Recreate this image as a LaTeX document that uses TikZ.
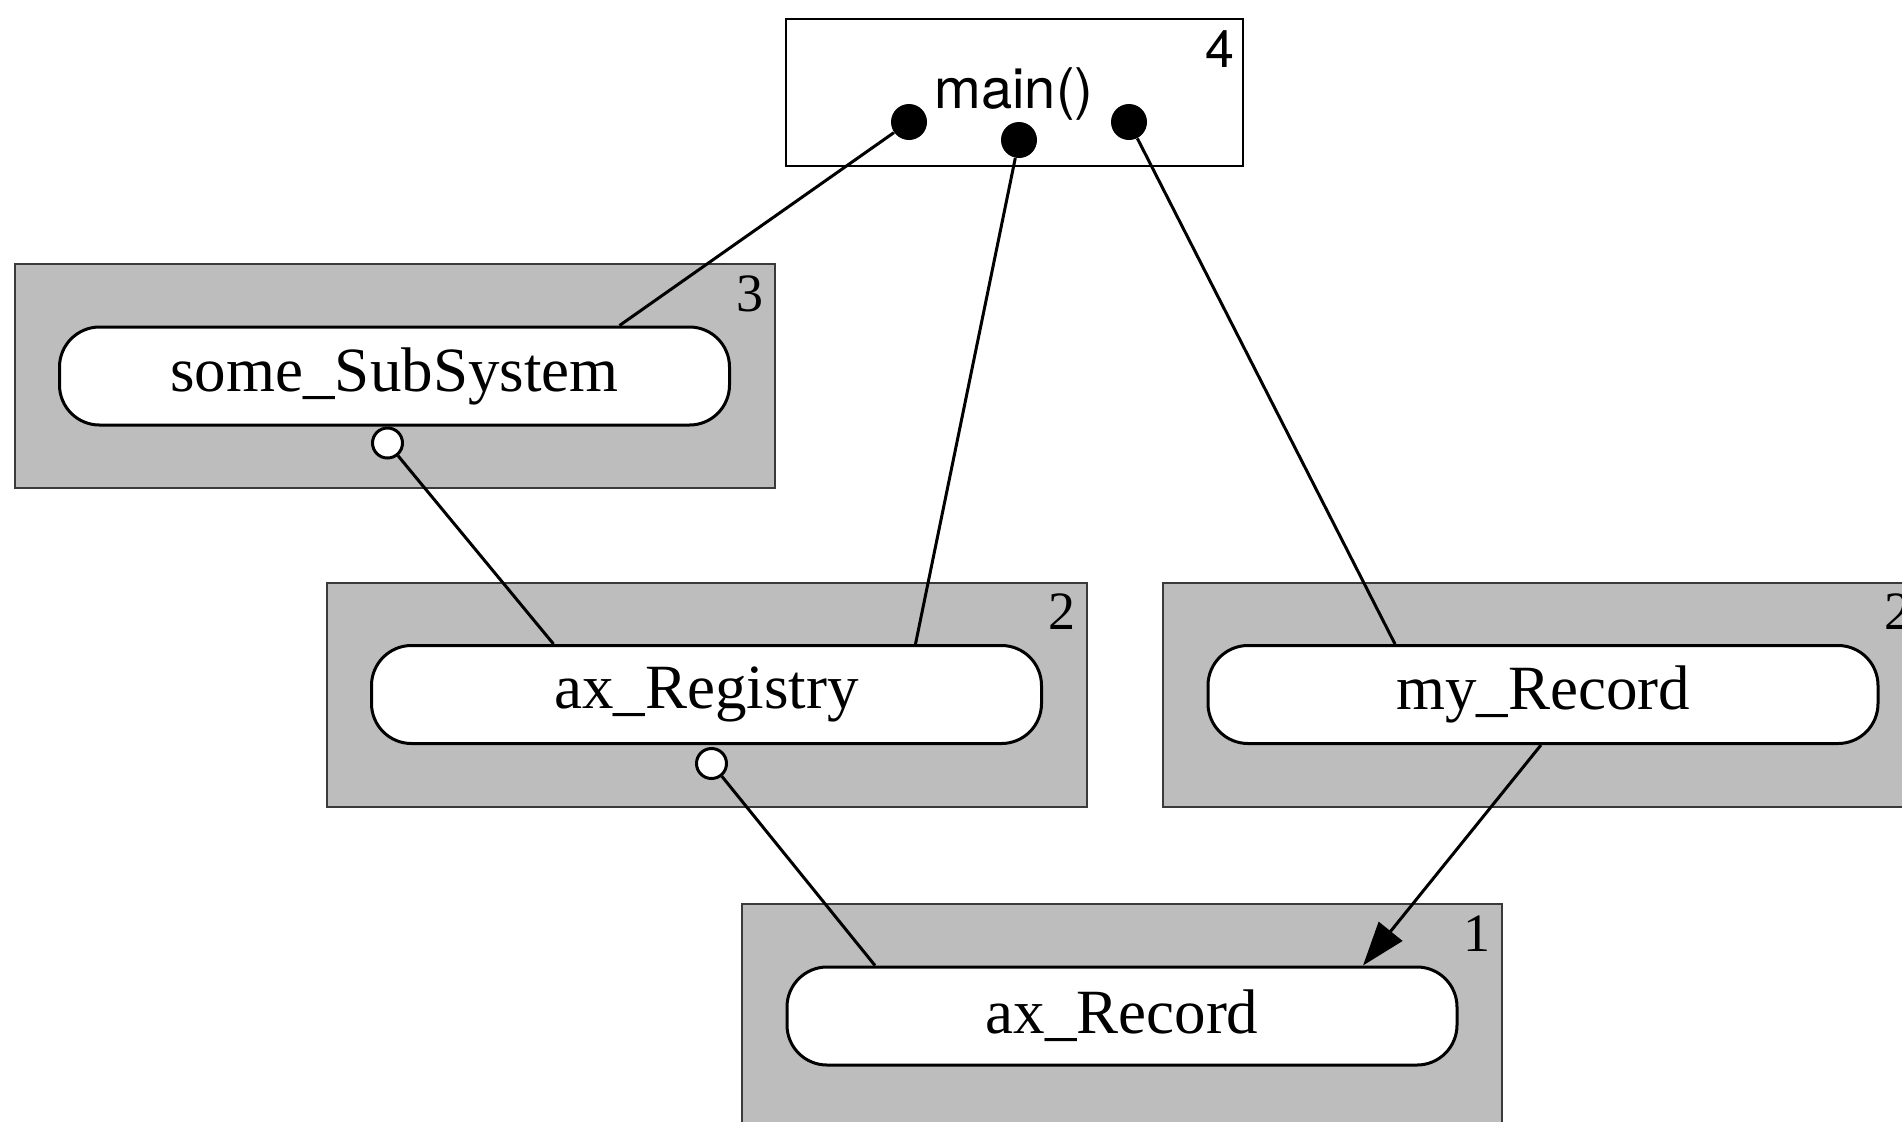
\documentclass[tikz,border=0pt]{standalone}
\usepackage{fontspec}
\setmainfont{Liberation Serif}
\newfontfamily\helv{TeX Gyre Heros}
\usetikzlibrary{arrows.meta, positioning, calc}
\definecolor{shade}{HTML}{BDBDBD}
\definecolor{frame}{HTML}{3A3A3A}

\begin{document}
\begin{tikzpicture}[
    x=0.5pt, y=-0.5pt,
    grp/.style={rectangle, draw=frame, line width=1pt, fill=shade,
              minimum width=380pt, minimum height=112pt, inner sep=0pt},
    pill/.style={rectangle, rounded corners=20pt, draw=black, line width=1.5pt, fill=white,
              minimum width=335pt, minimum height=49pt, inner sep=0pt,
              font=\fontsize{31.5}{36}\selectfont},
    num/.style={anchor=north east, inner sep=0pt, font=\fontsize{27}{30}\selectfont},
    dot/.style={circle, fill=black, minimum size=18pt, inner sep=0pt},
    odot/.style={circle, draw=black, line width=1.5pt, fill=white, minimum size=15pt, inner sep=0pt},
    e/.style={line width=1.5pt},
    ae/.style={-{Triangle[length=22pt, width=15pt]}, line width=1.5pt}
]
\useasboundingbox (0,0) rectangle (1902,1121);

% main program
\node[rectangle, draw, line width=1.3pt, fill=white, minimum width=228.5pt,
      minimum height=73.5pt, inner sep=0pt] (mainbox) at (1014.5,92.5) {};
\node[font=\helv\fontsize{28}{32}\selectfont, inner sep=0pt] (main) at (1014,94) {main()};
\node[num, font=\helv\fontsize{26}{30}\selectfont] (n4) at ($(mainbox.north east)+(-10,13)$) {4};
\node[dot] (d1) at (909,122) {};
\node[dot] (d2) at (1019,140) {};
\node[dot] (d3) at (1129,122) {};

% levels
\node[grp] (gsub) at (394.5,376) {};
\node[grp] (greg) at (706.5,694.5) {};
\node[grp] (gmy)  at (1543,694.5) {};
\node[grp] (grec) at (1122,1016) {};

\node[pill] (subsys) at (gsub.center) {some\_SubSystem};
\node[pill] (reg)    at (greg.center) {ax\_Registry};
\node[pill] (my)     at (gmy.center)  {my\_Record};
\node[pill] (rec)    at (grec.center) {ax\_Record};

\node[num] (n3) at ($(gsub.north east)+(-12,12)$) {3};
\node[num] (n2) at ($(greg.north east)+(-12,12)$) {2};
\node[num] (n2b) at ($(gmy.north east)+(-12,12)$) {2};
\node[num] (n1) at ($(grec.north east)+(-12,12)$) {1};

\node[odot, anchor=north] (o1) at ($(subsys.south)+(-7,0)$) {};
\node[odot, anchor=north] (o2) at ($(reg.south)+(5,2)$) {};

% uses
\draw[e] (d1) -- ($(subsys.north)+(225,0)$);
\draw[e] (d2) -- ($(reg.north)+(209,0)$);
\draw[e] (d3) -- ($(my.north)+(-148,0)$);
\draw[e] (o1) -- ($(reg.north)+(-153,0)$);
\draw[e] (o2) -- ($(rec.north)+(-247,0)$);
\draw[ae] ($(my.south)+(-2,0)$) -- ($(rec.north)+(241,0)$);
\end{tikzpicture}
\end{document}
